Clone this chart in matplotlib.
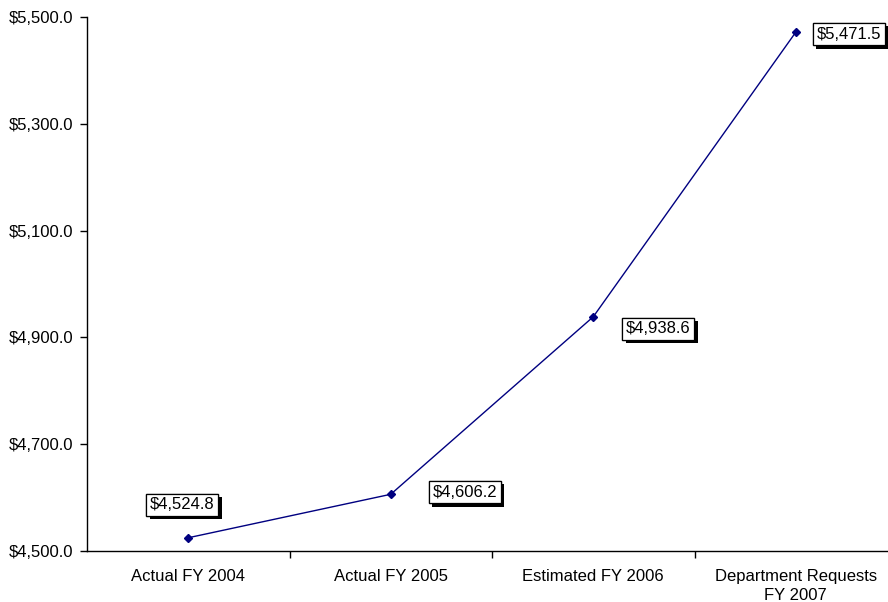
import matplotlib
matplotlib.use("Agg")
import matplotlib.pyplot as plt
import matplotlib.patheffects as pe
import numpy as np
from matplotlib.ticker import FuncFormatter, FixedLocator

plt.rcParams['font.family'] = ['Liberation Sans', 'DejaVu Sans']

categories = ["Actual FY 2004", "Actual FY 2005", "Estimated FY 2006", "Department Requests\nFY 2007"]
values = [4524.8, 4606.2, 4938.6, 5471.5]
# label offsets in pixels relative to each point
label_offsets = [(-6, 33), (74, 2), (65, -12), (53, -2)]

fig = plt.figure(figsize=(8.88, 6.02), dpi=100)
W, H = 888, 602
left, right, top, bottom = 87, 897, 17, 551
ax = fig.add_axes([left / W, 1 - bottom / H, (right - left) / W, (bottom - top) / H])

x = list(range(len(categories)))
ax.plot(x, values, color='#000080', linewidth=1.0, marker='D', markersize=4,
        markerfacecolor='#000080', markeredgecolor='#000080')

ax.set_xlim(-0.5, len(categories) - 0.5)
ax.set_ylim(4500, 5500)
ax.yaxis.set_major_locator(FixedLocator(np.arange(4500, 5501, 200)))
ax.yaxis.set_major_formatter(FuncFormatter(lambda v, p: f"${v:,.1f}"))

ax.set_xticks([i + 0.5 for i in range(len(categories) - 1)])
ax.set_xticklabels([])
ax.set_xticks(x, minor=True)
ax.set_xticklabels(categories, minor=True, linespacing=1.35)
ax.tick_params(axis='x', which='minor', length=0, pad=13, labelsize=12)
ax.tick_params(axis='x', which='major', length=5, direction='out', width=1)
ax.tick_params(axis='y', length=5, direction='out', width=1, labelsize=12, pad=5)

for s in ['top', 'right']:
    ax.spines[s].set_visible(False)
for s in ['left', 'bottom']:
    ax.spines[s].set_linewidth(1.0)

for xi, v, (dx, dy) in zip(x, values, label_offsets):
    t = ax.annotate(f"${v:,.1f}", (xi, v), xytext=(dx, dy), textcoords='offset pixels',
                    ha='center', va='center', fontsize=12,
                    bbox=dict(boxstyle='square,pad=0.22', facecolor='white',
                              edgecolor='black', linewidth=0.9))
    t.get_bbox_patch().set_path_effects([
        pe.withSimplePatchShadow(offset=(2.4, -2.4), shadow_rgbFace='black', alpha=1.0),
        pe.Normal()])

fig.savefig("out.png", dpi=100)
